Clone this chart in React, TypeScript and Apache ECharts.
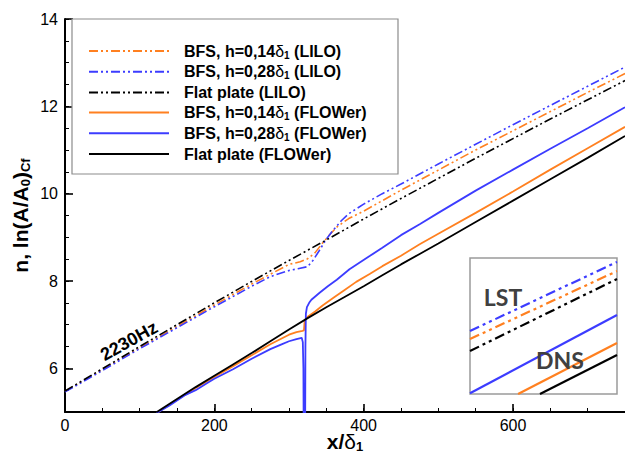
import React, { useEffect, useRef } from "react";
import * as echarts from "echarts";

// ---- main plot data: x/δ1 positions and n-factor values ----
const flatLiloX = [0, 50, 100, 150, 200, 250, 300, 350, 400, 450, 500, 550, 600, 650, 700, 750];
const flatLiloY = [5.48, 5.99, 6.5, 7.0, 7.5, 7.99, 8.47, 8.94, 9.42, 9.89, 10.35, 10.81, 11.26, 11.71, 12.15, 12.59];

const bfs14LiloX = [0, 50, 100, 150, 200, 250, 300, 315, 325, 335, 345, 355, 365, 380, 400, 450, 500, 550, 600, 650, 700, 750];
const bfs14LiloY = [5.47, 5.97, 6.47, 6.96, 7.45, 7.93, 8.38, 8.44, 8.51, 8.65, 8.87, 9.07, 9.25, 9.43, 9.6, 10.08, 10.54, 11.0, 11.44, 11.88, 12.32, 12.75];

const bfs28LiloX = [0, 50, 100, 150, 200, 250, 275, 300, 312, 325, 332, 340, 350, 360, 370, 380, 400, 425, 450, 500, 550, 600, 650, 700, 750];
const bfs28LiloY = [5.46, 5.95, 6.45, 6.93, 7.41, 7.88, 8.1, 8.24, 8.28, 8.33, 8.47, 8.68, 8.96, 9.18, 9.38, 9.54, 9.76, 10.0, 10.22, 10.68, 11.13, 11.58, 12.02, 12.46, 12.9];

const flatFlowerX = [123, 150, 175, 200, 225, 250, 275, 300, 325, 350, 375, 400, 425, 450, 475, 500, 550, 600, 650, 700, 750];
const flatFlowerY = [5.0, 5.3, 5.57, 5.83, 6.09, 6.35, 6.62, 6.89, 7.15, 7.4, 7.64, 7.88, 8.13, 8.38, 8.62, 8.86, 9.35, 9.84, 10.33, 10.82, 11.32];

const bfs14FlowerX = [125, 150, 175, 200, 225, 250, 275, 300, 310, 318, 320, 321, 325, 335, 345, 360, 375, 390, 408, 425, 450, 475, 500, 550, 600, 650, 700, 750];
const bfs14FlowerY = [5.0, 5.28, 5.55, 5.8, 6.05, 6.3, 6.55, 6.77, 6.83, 6.86, 6.87, 7.1, 7.18, 7.3, 7.44, 7.62, 7.8, 7.98, 8.16, 8.34, 8.58, 8.84, 9.08, 9.56, 10.05, 10.55, 11.04, 11.53];

const bfs28FlowerX = [123, 140, 160, 175, 190, 200, 225, 250, 275, 290, 300, 310, 317, 318.5, 319.3, 319.8, 321.5, 322, 322.6, 324, 327, 330, 341, 352, 364, 381, 408, 425, 450, 475, 500, 550, 600, 650, 700, 750];
const bfs28FlowerY = [4.98, 5.15, 5.38, 5.5, 5.66, 5.76, 5.98, 6.22, 6.44, 6.55, 6.62, 6.67, 6.7, 6.6, 6.0, 4.0, 4.0, 6.5, 7.25, 7.4, 7.5, 7.57, 7.73, 7.88, 8.03, 8.27, 8.57, 8.76, 9.05, 9.3, 9.56, 10.07, 10.55, 11.03, 11.5, 11.98];

// ---- inset sketch (normalised 0..1 coordinates) ----
const insetLstBlueX = [0, 1];
const insetLstBlueY = [0.463, 0.971];
const insetLstOrangeX = [0, 1];
const insetLstOrangeY = [0.404, 0.904];
const insetLstBlackX = [0, 1];
const insetLstBlackY = [0.316, 0.846];
const insetDnsBlueX = [0, 1];
const insetDnsBlueY = [0.005, 0.581];
const insetDnsOrangeX = [0.327, 1];
const insetDnsOrangeY = [0, 0.375];
const insetDnsBlackX = [0.476, 1];
const insetDnsBlackY = [0, 0.287];

// ---- axes ----
const xMajorTicks = [0, 200, 400, 600];
const yMajorTicks = [6, 8, 10, 12, 14];

const seriesNames = [
  "BFS, h=0,14δ1 (LILO)",
  "BFS, h=0,28δ1 (LILO)",
  "Flat plate (LILO)",
  "BFS, h=0,14δ1 (FLOWer)",
  "BFS, h=0,28δ1 (FLOWer)",
  "Flat plate (FLOWer)",
];

const ORANGE = "#ff8020";
const BLUE = "#3c3cff";
const BLACK = "#000000";
const FONT = "'Liberation Sans', Arial, sans-serif";
const DASH_DOT_DOT = [9, 3, 2, 3, 2, 3];
const DASH_DOT_DOT_INSET = [10, 4, 3, 4, 3, 4];

const zip = (xs: number[], ys: number[]) => xs.map((x, i) => [x, ys[i]]);

function lineSeries(name: string, xs: number[], ys: number[], color: string, dashed: boolean) {
  return {
    name,
    type: "line",
    xAxisIndex: 0,
    yAxisIndex: 0,
    data: zip(xs, ys),
    symbol: "none",
    showSymbol: false,
    clip: true,
    z: dashed ? 3 : 2,
    itemStyle: { color },
    lineStyle: { color, width: dashed ? 1.6 : 1.8, type: dashed ? DASH_DOT_DOT : "solid" },
  };
}

function insetSeries(name: string, xs: number[], ys: number[], color: string, dashed: boolean) {
  return {
    name,
    type: "line",
    xAxisIndex: 2,
    yAxisIndex: 2,
    data: zip(xs, ys),
    symbol: "none",
    showSymbol: false,
    clip: true,
    z: 12,
    itemStyle: { color },
    lineStyle: { color, width: 2.2, type: dashed ? DASH_DOT_DOT_INSET : "solid" },
  };
}

const legendRich = {
  a: { fontFamily: FONT, fontSize: 16, fontWeight: "bold", color: "#000", lineHeight: 18 },
  d: { fontFamily: FONT, fontSize: 16, fontWeight: "normal", color: "#000", lineHeight: 18 },
  s: { fontFamily: FONT, fontSize: 10, fontWeight: "bold", color: "#000", lineHeight: 10, verticalAlign: "bottom" },
};

function legendLabel(name: string) {
  const i = name.indexOf("δ1");
  if (i < 0) return `{a|${name}}`;
  return `{a|${name.slice(0, i)}}{d|δ}{s|1}{a|${name.slice(i + 2)}}`;
}

export default function App() {
  const ref = useRef<HTMLDivElement>(null);

  useEffect(() => {
    if (!ref.current) return;
    const chart = echarts.init(ref.current, null, { renderer: "svg" });

    const option = {
      animation: false,
      backgroundColor: "#ffffff",
      textStyle: { fontFamily: FONT },
      grid: [
        { left: 65, top: 19, right: 0, bottom: 43, outerBoundsMode: "none", containLabel: false },
        {
          left: 470,
          top: 258,
          width: 147,
          height: 136,
          show: true,
          backgroundColor: "#ffffff",
          borderColor: "#9a9a9a",
          borderWidth: 1.5,
          outerBoundsMode: "none",
          z: 5,
        },
      ],
      xAxis: [
        {
          gridIndex: 0,
          type: "value",
          min: 0,
          max: 750,
          name: "{b|x/}{d|δ}{s|1}",
          nameLocation: "middle",
          nameGap: 17,
          nameMoveOverlap: false,
          nameTextStyle: {
            verticalAlign: "top",
            rich: {
              b: { fontFamily: FONT, fontSize: 21, fontWeight: "bold", color: "#000", lineHeight: 24 },
              d: { fontFamily: FONT, fontSize: 21, fontWeight: "normal", color: "#000", lineHeight: 24 },
              s: { fontFamily: FONT, fontSize: 13, fontWeight: "bold", color: "#000", lineHeight: 13, verticalAlign: "bottom" },
            },
          },
          axisLine: { lineStyle: { color: "#000", width: 2 } },
          axisTick: { inside: true, length: 8, customValues: xMajorTicks, lineStyle: { color: "#000", width: 1.6 } },
          axisLabel: { customValues: xMajorTicks, fontSize: 16, color: "#000", margin: 5, fontFamily: FONT },
          splitLine: { show: false },
        },
        {
          gridIndex: 0,
          type: "value",
          min: 0,
          max: 750,
          interval: 50,
          position: "bottom",
          axisLine: { show: false },
          axisTick: { inside: true, length: 4, lineStyle: { color: "#000", width: 1 } },
          axisLabel: { show: false },
          splitLine: { show: false },
        },
        { gridIndex: 1, type: "value", min: 0, max: 1, show: false },
      ],
      yAxis: [
        {
          gridIndex: 0,
          type: "value",
          min: 5,
          max: 14,
          name: "{b|n, ln(A/A}{s|0}{b|)}{s|Cf}",
          nameLocation: "middle",
          nameGap: 33,
          nameMoveOverlap: false,
          nameRotate: 90,
          nameTextStyle: {
            rich: {
              b: { fontFamily: FONT, fontSize: 21, fontWeight: "bold", color: "#000", lineHeight: 24 },
              s: { fontFamily: FONT, fontSize: 13, fontWeight: "bold", color: "#000", lineHeight: 13, verticalAlign: "bottom" },
            },
          },
          axisLine: { lineStyle: { color: "#000", width: 2 } },
          axisTick: { inside: true, length: 8, customValues: yMajorTicks, lineStyle: { color: "#000", width: 1.6 } },
          axisLabel: { customValues: yMajorTicks, fontSize: 16, color: "#000", margin: 7, fontFamily: FONT },
          splitLine: { show: false },
        },
        {
          gridIndex: 0,
          type: "value",
          min: 5,
          max: 14,
          interval: 0.5,
          position: "left",
          axisLine: { show: false },
          axisTick: { inside: true, length: 4, lineStyle: { color: "#000", width: 1 } },
          axisLabel: { show: false },
          splitLine: { show: false },
        },
        { gridIndex: 1, type: "value", min: 0, max: 1, show: false },
      ],
      legend: {
        orient: "vertical",
        left: 88,
        top: 43,
        padding: 0,
        itemWidth: 80,
        itemHeight: 14,
        itemGap: 3.8,
        data: seriesNames,
        selectedMode: false,
        formatter: legendLabel,
        itemStyle: { opacity: 0 },
        textStyle: { rich: legendRich, padding: [0, 0, 0, 10] },
      },
      graphic: [
        {
          type: "rect",
          z: 3,
          shape: { x: 72, y: 19, width: 326, height: 155 },
          style: { fill: "#ffffff", stroke: "#8c8c8c", lineWidth: 1.2 },
        },
        {
          type: "text",
          z: 10,
          x: 129,
          y: 341,
          rotation: (29 * Math.PI) / 180,
          style: {
            text: "2230Hz",
            fontFamily: FONT,
            fontSize: 18,
            fontWeight: "bold",
            fill: "#000",
            align: "center",
            verticalAlign: "middle",
          },
        },
        {
          type: "text",
          z: 20,
          x: 503,
          y: 297,
          style: {
            text: "LST",
            fontFamily: "Lato, 'Open Sans', sans-serif",
            fontSize: 23,
            fontWeight: "bold",
            fill: "#404040",
            align: "center",
            verticalAlign: "middle",
          },
        },
        {
          type: "text",
          z: 20,
          x: 560,
          y: 360,
          style: {
            text: "DNS",
            fontFamily: "Lato, 'Open Sans', sans-serif",
            fontSize: 23,
            fontWeight: "bold",
            fill: "#404040",
            align: "center",
            verticalAlign: "middle",
          },
        },
      ],
      series: [
        lineSeries(seriesNames[0], bfs14LiloX, bfs14LiloY, ORANGE, true),
        lineSeries(seriesNames[1], bfs28LiloX, bfs28LiloY, BLUE, true),
        lineSeries(seriesNames[2], flatLiloX, flatLiloY, BLACK, true),
        lineSeries(seriesNames[3], bfs14FlowerX, bfs14FlowerY, ORANGE, false),
        lineSeries(seriesNames[4], bfs28FlowerX, bfs28FlowerY, BLUE, false),
        lineSeries(seriesNames[5], flatFlowerX, flatFlowerY, BLACK, false),
        insetSeries("inset LST BFS 0.28", insetLstBlueX, insetLstBlueY, BLUE, true),
        insetSeries("inset LST BFS 0.14", insetLstOrangeX, insetLstOrangeY, ORANGE, true),
        insetSeries("inset LST flat", insetLstBlackX, insetLstBlackY, BLACK, true),
        insetSeries("inset DNS BFS 0.28", insetDnsBlueX, insetDnsBlueY, BLUE, false),
        insetSeries("inset DNS BFS 0.14", insetDnsOrangeX, insetDnsOrangeY, ORANGE, false),
        insetSeries("inset DNS flat", insetDnsBlackX, insetDnsBlackY, BLACK, false),
      ],
    };

    chart.setOption(option as any);
    return () => chart.dispose();
  }, []);

  return (
    <div
      ref={ref}
      style={{ position: "fixed", left: 0, top: 0, width: 625, height: 455, background: "#fff" }}
    />
  );
}
